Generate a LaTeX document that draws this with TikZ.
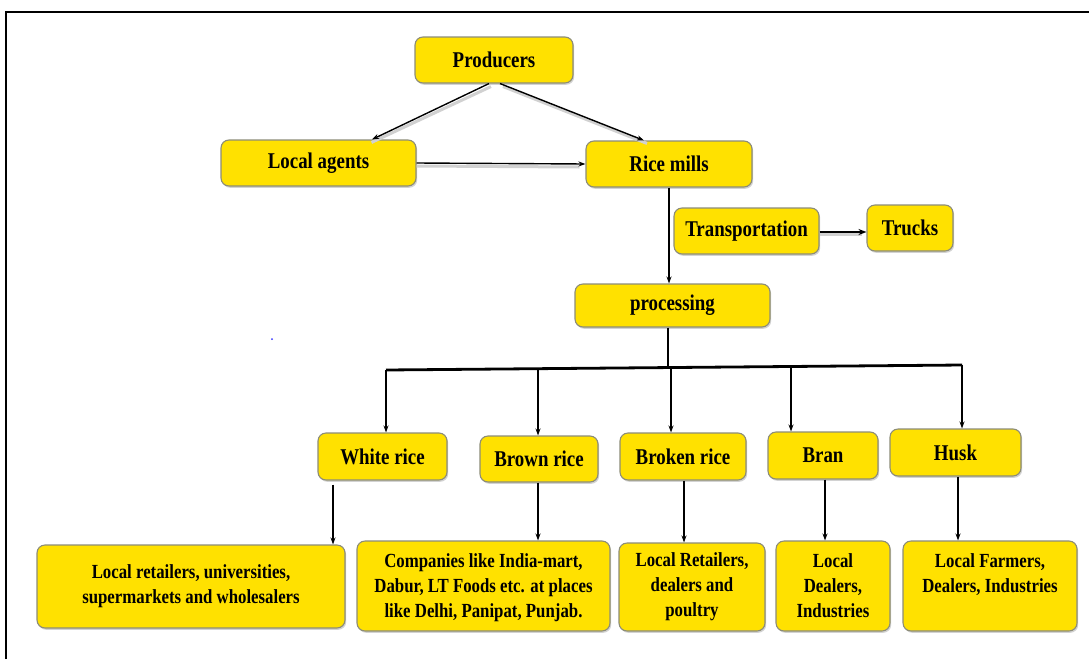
\documentclass[tikz,border=0pt]{standalone}
\usepackage{fontspec}
\setmainfont{Liberation Serif}[FakeStretch=0.84]
\usetikzlibrary{shadows,arrows.meta}
\definecolor{boxfill}{HTML}{FFE100}
\definecolor{boxline}{HTML}{8C8C78}
\tikzset{
  box/.style={draw=boxline, line width=1.1pt, fill=boxfill, rounded corners=8pt,
    drop shadow={shadow xshift=1.2pt, shadow yshift=-1.8pt, fill=black!35, opacity=.5},
    font=\fontsize{20}{25}\selectfont\bfseries, align=center, inner sep=2pt},
  label box/.style={box, font=\fontsize{22.5}{27}\selectfont\bfseries},
  flow/.style={-{Stealth[length=7pt,width=5pt]}, line width=1.4pt, black},
  bold flow/.style={-{Stealth[length=8pt,width=6pt]}, line width=2.2pt, black},
  trunk/.style={line width=2.8pt, black},
  halo/.style={line width=3pt, black!18},
  frame/.style={line width=2.4pt, black}
}
\begin{document}
\begin{tikzpicture}[x=1pt, y=-1pt]
\useasboundingbox (0,0) rectangle (1089,659);
\draw[frame] (6,659) -- (6,12) -- (1089,12);

% upper chain
\node[label box, minimum width=158pt, minimum height=46pt] (prod)  at (494,60)    {Producers};
\node[label box, minimum width=195pt, minimum height=46pt] (agent) at (318.5,163) {Local agents};
\node[label box, minimum width=166pt, minimum height=46pt] (mill)  at (669,164)   {Rice mills};
\node[label box, minimum width=145pt, minimum height=46pt] (trans) at (746.5,231) {Transportation};
\node[label box, minimum width=86pt,  minimum height=46pt] (truck) at (910,228)   {Trucks};
\node[label box, minimum width=195pt, minimum height=43pt] (proc)  at (672.5,305.5) {processing};

% products
\node[label box, minimum width=129pt, minimum height=47pt] (white)  at (382.5,456.5) {White rice};
\node[label box, minimum width=118pt, minimum height=46pt] (brown)  at (539,459)     {Brown rice};
\node[label box, minimum width=126pt, minimum height=47pt] (broken) at (683,456.5)   {Broken rice};
\node[label box, minimum width=110pt, minimum height=47pt] (bran)   at (823,455.5)   {Bran};
\node[label box, minimum width=131pt, minimum height=47pt] (husk)   at (955.5,452.5) {Husk};

% buyers
\node[box, minimum width=308pt, minimum height=83pt] (b1) at (191,586.5)
  {Local retailers, universities,\\ supermarkets and wholesalers};
\node[box, minimum width=253pt, minimum height=90pt, text depth=-6pt] (b2) at (483.5,586)
  {Companies like India-mart,\\ Dabur, LT Foods etc. at places\\ like Delhi, Panipat, Punjab.};
\node[box, minimum width=146pt, minimum height=88pt] (b3) at (692,587)
  {Local Retailers,\\ dealers and\\ poultry};
\node[box, minimum width=114pt, minimum height=90pt] (b4) at (833,586)
  {Local\\ Dealers,\\ Industries};
\node[box, minimum width=174pt, minimum height=90pt] (b5) at (990,586)
  {Local Farmers,\\ Dealers, Industries\\ \mbox{}};

% soft shading under the upper arrows
\draw[halo] ([xshift=-3pt,yshift=-3pt]prod.south) -- ([xshift=53pt,yshift=-3pt]agent.north);
\draw[halo] ([xshift=9pt,yshift=-3pt]prod.south) -- ([xshift=-22pt,yshift=-3pt]mill.north);
\draw[halo] ([yshift=-3pt]agent.east) -- ([xshift=-6pt,yshift=-3pt]mill.west);
\draw[halo] ([yshift=-3pt]trans.east) -- ([xshift=-4pt,yshift=-3pt]trans.east -| truck.west);

% upper connectors
\draw[flow] ([xshift=-5pt]prod.south) -- ([xshift=53.5pt]agent.north);
\draw[flow] ([xshift=6pt]prod.south) -- ([xshift=-25pt]mill.north);
\draw[flow] (agent.east) -- (mill.west);
\draw[flow] (mill.south) -- (mill.south |- proc.north);
\draw[bold flow] ([yshift=-1pt]trans.east) -- ([yshift=-1pt]trans.east -| truck.west);

% distribution bar
\coordinate (barL) at (386,370);
\coordinate (barR) at (962,365);
\coordinate (barM) at (668,367.5);
\draw[flow, -] ([xshift=-4.5pt]proc.south) -- (barM);
\draw[trunk] (barL) -- (barR);
\draw[flow] (barL) -- ([xshift=3.5pt]white.north);
\draw[flow] (538,369) -- ([xshift=-1pt]brown.north);
\draw[flow] (671,367) -- ([xshift=-12pt]broken.north);
\draw[flow] (791,366) -- ([xshift=-32pt]bran.north);
\draw[flow] (barR) -- ([xshift=6.5pt]husk.north);

% products to buyers
\draw[flow] ([xshift=-49.5pt,yshift=-4pt]white.south) -- ([xshift=-49.5pt]white.south |- b1.north);
\draw[flow] ([xshift=-1pt]brown.south) -- ([xshift=-1pt]brown.south |- b2.north);
\draw[flow] ([xshift=1pt]broken.south) -- ([xshift=1pt]broken.south |- b3.north);
\draw[flow] ([xshift=2pt]bran.south) -- ([xshift=2pt]bran.south |- b4.north);
\draw[flow] ([xshift=2.5pt]husk.south) -- ([xshift=2.5pt]husk.south |- b5.north);

% stray mark
\fill[blue!80] (272,339) circle (1pt);
\end{tikzpicture}
\end{document}
